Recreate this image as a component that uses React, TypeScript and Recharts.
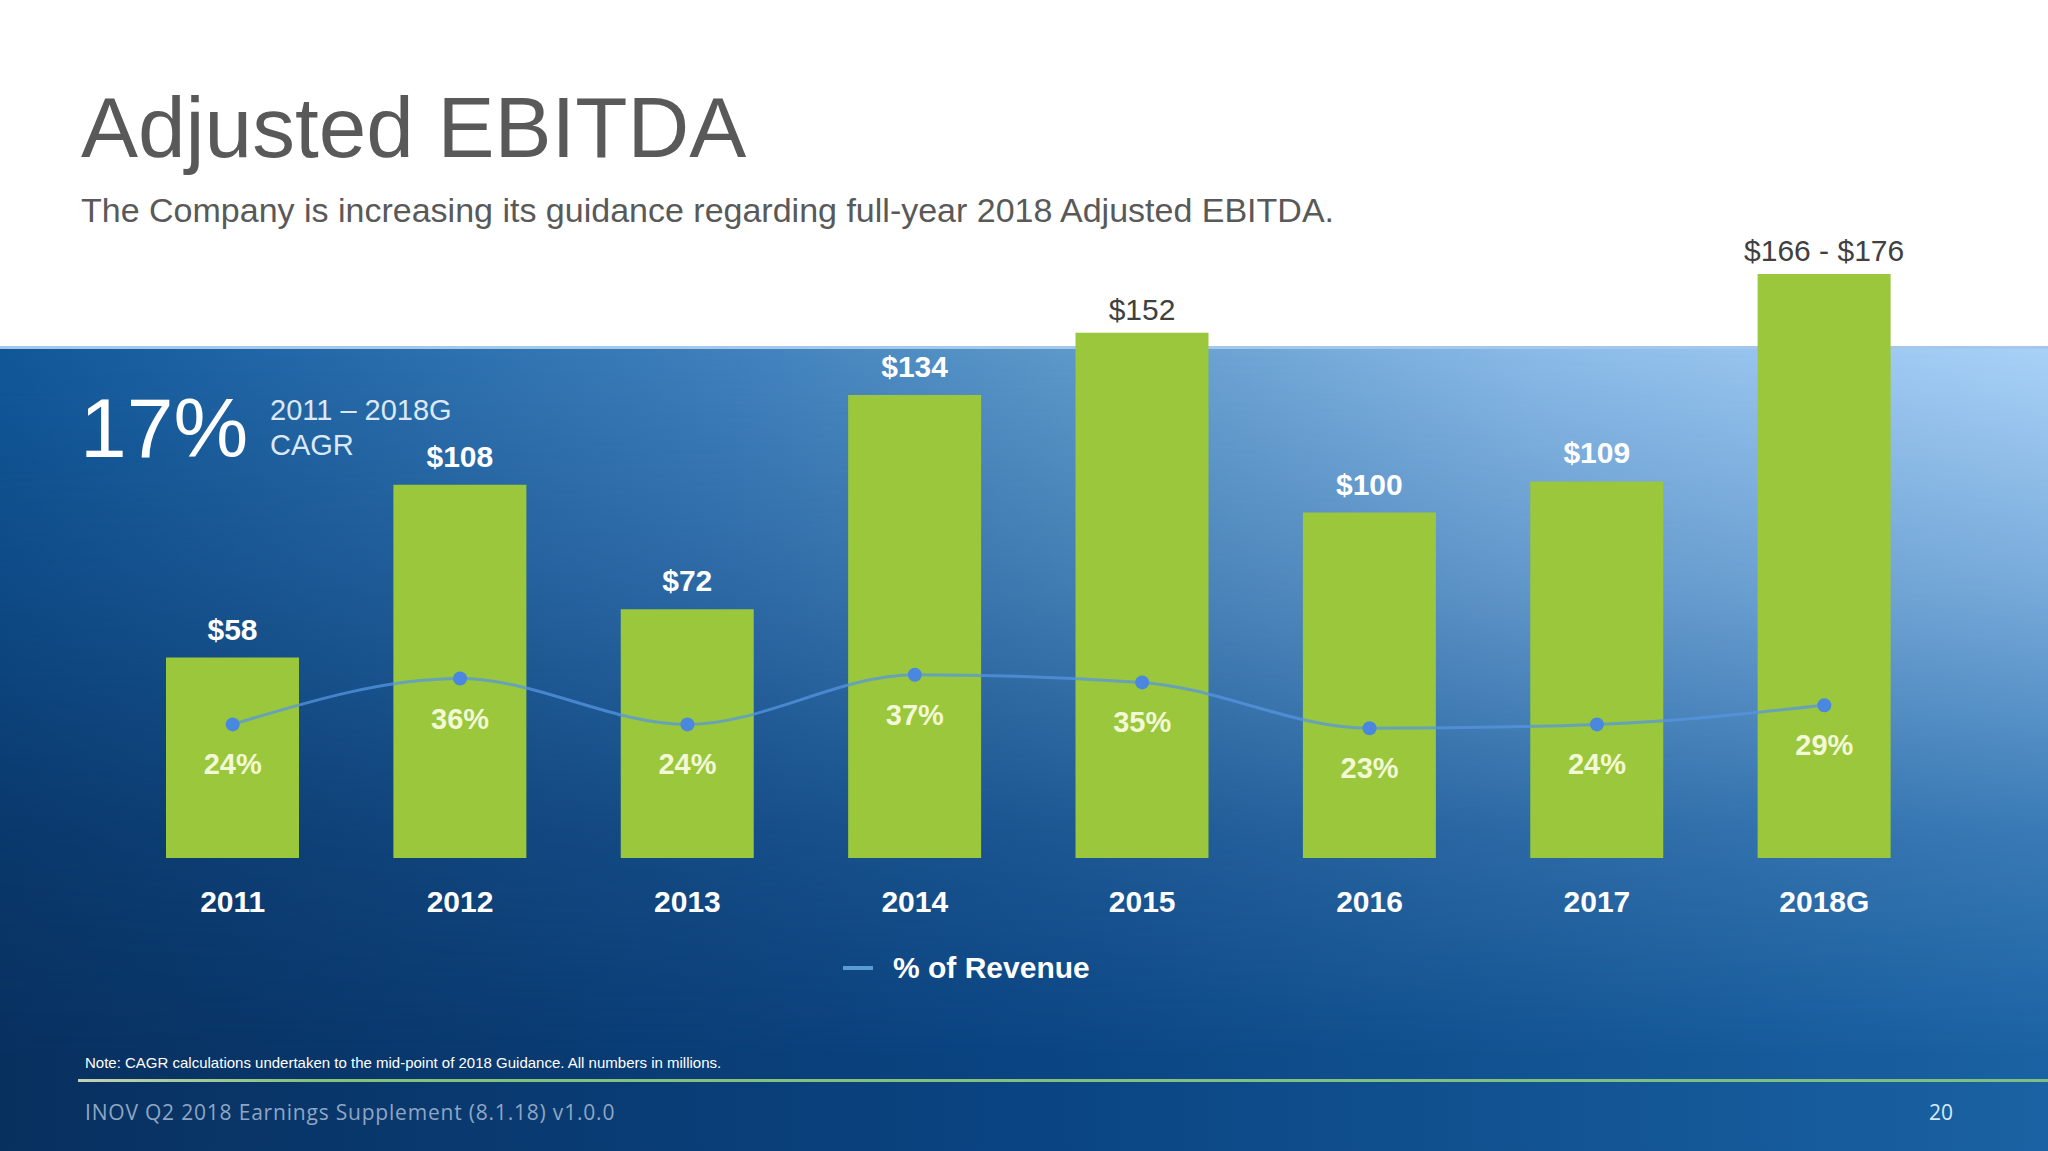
import React from 'react';
import { ComposedChart, Bar, Line, XAxis, YAxis, LabelList, Legend } from 'recharts';

// values
const years = ['2011', '2012', '2013', '2014', '2015', '2016', '2017', '2018G'];
const ebitda = [58, 108, 72, 134, 152, 100, 109, 169];
const ebitdaLabels = ['$58', '$108', '$72', '$134', '$152', '$100', '$109', '$166 - $176'];
const pctOfRevenue = [24, 36, 24, 37, 35, 23, 24, 29];

const data = years.map((year, i) => ({
  year,
  ebitda: ebitda[i],
  label: ebitdaLabels[i],
  pct: pctOfRevenue[i],
}));

const W = 2048;
const H = 1151;
const BAND_TOP = 346;
const FONT = '"Liberation Sans", Arial, Helvetica, sans-serif';
const FOOT_FONT = '"Open Sans", "DejaVu Sans", sans-serif';

const BarValueLabel = (props: any) => {
  const { x, y, width, value } = props;
  // labels sitting on the white part of the slide are regular and dark
  const onWhite = y < BAND_TOP;
  return (
    <text
      x={x + width / 2}
      y={onWhite ? y - 13 : y - 18}
      textAnchor="middle"
      fontFamily={FONT}
      fontSize={30}
      fontWeight={onWhite ? 400 : 700}
      fill={onWhite ? '#404040' : '#ffffff'}
    >
      {value}
    </text>
  );
};

const PctLabel = (props: any) => {
  const { x, y, value } = props;
  return (
    <text x={x} y={y + 50} textAnchor="middle" fontFamily={FONT} fontSize={29} fontWeight={700} fill="#f3f8d6">
      {value}%
    </text>
  );
};

const YearTick = (props: any) => {
  const { x, y, payload } = props;
  return (
    <text x={x} y={y + 54} textAnchor="middle" fontFamily={FONT} fontSize={30} fontWeight={700} fill="#ffffff">
      {payload.value}
    </text>
  );
};

const RevenueLegend = (props: any) => {
  const items = (props.payload || []).filter((p: any) => p.dataKey === 'pct');
  return (
    <div style={{ display: 'flex', alignItems: 'center', height: 46 }}>
      {items.map((p: any) => (
        <div key={p.value} style={{ display: 'flex', alignItems: 'center' }}>
          <span style={{ display: 'inline-block', width: 30, height: 4, background: '#5b9bd5', marginRight: 20 }} />
          <span style={{ fontFamily: FONT, fontSize: 30, fontWeight: 700, color: '#ffffff' }}>{p.value}</span>
        </div>
      ))}
    </div>
  );
};

const App = () => {
  return (
    <div style={{ position: 'absolute', left: 0, top: 0, width: W, height: H, background: '#ffffff', overflow: 'hidden' }}>
      {/* blue band */}
      <div
        style={{
          position: 'absolute',
          left: 0,
          top: BAND_TOP,
          width: W,
          height: H - BAND_TOP,
          background: 'linear-gradient(to right, #11589a 0%, #3f80bd 35%, #5a96c8 50%, #8bbbe8 75%, #aad2f8 100%)',
        }}
      />
      <div
        style={{
          position: 'absolute',
          left: 0,
          top: BAND_TOP,
          width: W,
          height: H - BAND_TOP,
          background: 'linear-gradient(to right, #08305f 0%, #0a4482 50%, #1a62a3 100%)',
          WebkitMaskImage: 'linear-gradient(to bottom, rgba(0,0,0,0) 0%, rgba(0,0,0,0.35) 30%, rgba(0,0,0,0.78) 60%, #000 88%)',
          maskImage: 'linear-gradient(to bottom, rgba(0,0,0,0) 0%, rgba(0,0,0,0.35) 30%, rgba(0,0,0,0.78) 60%, #000 88%)',
        }}
      />
      <div style={{ position: 'absolute', left: 0, top: BAND_TOP, width: W, height: 3, background: '#a3c8ea' }} />
      <div
        style={{
          position: 'absolute',
          left: 78,
          top: 1079,
          width: W - 78,
          height: 3,
          background: 'linear-gradient(to right, #c3d2b4 0%, #86c27a 12%, #7dbf82 100%)',
        }}
      />

      {/* slide texts */}
      <svg width={W} height={H} style={{ position: 'absolute', left: 0, top: 0 }}>
        <text x={81} y={157} fontFamily={FONT} fontSize={85.5} fill="#595959">
          Adjusted EBITDA
        </text>
        <text x={81} y={222} fontFamily={FONT} fontSize={34} fill="#595959">
          The Company is increasing its guidance regarding full-year 2018 Adjusted EBITDA.
        </text>
        <text x={80} y={457} fontFamily={FONT} fontSize={84} fill="#ffffff">
          17%
        </text>
        <text x={270} y={420} fontFamily={FONT} fontSize={29} fill="#dce8f5">
          2011 – 2018G
        </text>
        <text x={270} y={455} fontFamily={FONT} fontSize={29} fill="#dce8f5">
          CAGR
        </text>
        <text x={85} y={1068} fontFamily={FONT} fontSize={15} fill="#ffffff">
          Note: CAGR calculations undertaken to the mid-point of 2018 Guidance.  All numbers in millions.
        </text>
        <text x={85} y={1120} fontFamily={FOOT_FONT} fontSize={21} letterSpacing={0.8} fill="#8ea6c4">
          INOV Q2 2018 Earnings Supplement (8.1.18) v1.0.0
        </text>
        <text x={1929} y={1120} fontFamily={FOOT_FONT} fontSize={21} fill="#d6ebff">
          20
        </text>
      </svg>

      <div style={{ position: 'absolute', left: 0, top: 0 }}>
        <ComposedChart width={W} height={H} data={data} margin={{ top: 167, right: 110, left: 119, bottom: 233 }}>
          <XAxis
            dataKey="year"
            height={60}
            axisLine={false}
            tickLine={false}
            tickSize={0}
            tickMargin={0}
            interval={0}
            tick={<YearTick />}
          />
          <YAxis yAxisId="usd" domain={[0, 200]} hide />
          <YAxis yAxisId="pct" domain={[-11, 170]} hide />
          <Legend
            verticalAlign="middle"
            align="center"
            wrapperStyle={{ left: 843, top: 945, width: 440, height: 46 }}
            content={<RevenueLegend />}
          />
          <Bar yAxisId="usd" dataKey="ebitda" barSize={133} fill="#9ac73b" legendType="none" isAnimationActive={false}>
            <LabelList dataKey="label" content={<BarValueLabel />} />
          </Bar>
          <Line
            yAxisId="pct"
            type="monotone"
            dataKey="pct"
            name="% of Revenue"
            stroke="#5595e2"
            strokeOpacity={0.75}
            strokeWidth={3}
            dot={{ r: 7, fill: '#4a87de', stroke: 'none', fillOpacity: 1 }}
            activeDot={false}
            isAnimationActive={false}
          >
            <LabelList dataKey="pct" content={<PctLabel />} />
          </Line>
        </ComposedChart>
      </div>
    </div>
  );
};

export default App;
